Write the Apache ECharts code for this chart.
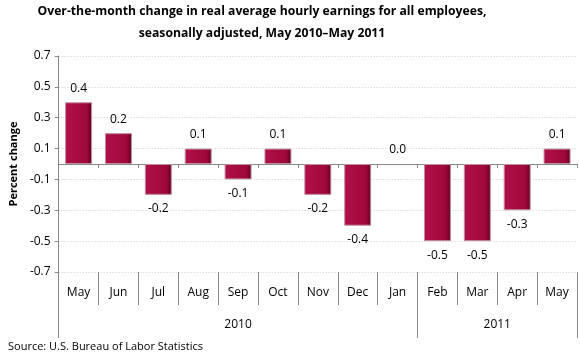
<!DOCTYPE html>
<html><head><meta charset="utf-8">
<script src="https://cdn.jsdelivr.net/npm/echarts@6/dist/echarts.min.js"></script>
<style>html,body{margin:0;padding:0;background:#fff}#c{width:580px;height:360px}</style>
</head><body><div id="c"></div>
<script>
var months = ['May','Jun','Jul','Aug','Sep','Oct','Nov','Dec','Jan','Feb','Mar','Apr','May'];
var values = [0.4, 0.2, -0.2, 0.1, -0.1, 0.1, -0.2, -0.4, 0.0, -0.5, -0.5, -0.3, 0.1];
var years = ['2010', '2011'];
var yearCenters = [4.5, 11];
var yearBounds = [0, 9, 13];
var titleLines = ['Over-the-month change in real average hourly earnings for all employees,',
                  'seasonally adjusted, May 2010\u2013May 2011'];

var FONT = 'Open Sans';
var chart = echarts.init(document.getElementById('c'));
var barColor = new echarts.graphic.LinearGradient(0, 0, 1, 0, [
  {offset: 0, color: '#b0104a'},
  {offset: 0.8, color: '#a0083a'},
  {offset: 1, color: '#5c0022'}
]);
chart.setOption({
  animation: false,
  graphic: [{
    type: 'text', x: 262, y: 6,
    style: {text: titleLines[0], font: 'bold 12.2px "' + FONT + '"', fill: '#000', textAlign: 'center'}
  }, {
    type: 'text', x: 262, y: 28,
    style: {text: titleLines[1], font: 'bold 12.2px "' + FONT + '"', fill: '#000', textAlign: 'center'}
  }, {
    type: 'text', left: 8, top: 341,
    style: {text: 'Source: U.S. Bureau of Labor Statistics', font: '11px "' + FONT + '"', fill: '#000'}
  }],
  grid: {left: 53, right: 3, top: 56, bottom: 88},
  yAxis: {
    type: 'value', min: -0.7, max: 0.7, interval: 0.2,
    name: 'Percent change', nameLocation: 'middle', nameGap: 38,
    nameTextStyle: {fontFamily: FONT, fontWeight: 'bold', fontSize: 11, color: '#000'},
    axisLine: {show: true, lineStyle: {color: '#888'}},
    axisTick: {show: true, length: 4, lineStyle: {color: '#888'}},
    axisLabel: {fontFamily: FONT, fontSize: 12, color: '#000', margin: 8,
      formatter: function (v) { return v.toFixed(1); }},
    splitLine: {show: true, lineStyle: {color: '#ccc', type: [1, 2]}}
  },
  xAxis: [{
    type: 'category', data: months, position: 'bottom',
    axisLine: {show: true, onZero: true, lineStyle: {color: '#888'}},
    axisTick: {show: true, length: 4, interval: 0, lineStyle: {color: '#888'}},
    axisLabel: {show: false}
  }, {
    type: 'category', data: months, position: 'bottom',
    axisLine: {show: false, onZero: false},
    axisTick: {show: true, length: 33, interval: 0, lineStyle: {color: '#888'}},
    axisLabel: {show: true, interval: 0, margin: 15, fontFamily: FONT, fontSize: 12, color: '#000'}
  }, {
    type: 'value', min: 0, max: 13, position: 'bottom',
    axisLine: {show: false, onZero: false},
    axisTick: {show: true, length: 66, customValues: yearBounds, lineStyle: {color: '#888'}},
    axisLabel: {show: true, customValues: yearCenters, margin: 47, fontFamily: FONT, fontSize: 12, color: '#000',
      formatter: function (v) { return years[yearCenters.indexOf(v)]; }},
    splitLine: {show: false}
  }],
  series: [{
    type: 'bar', xAxisIndex: 0, barWidth: 27,
    data: values.map(function (v) {
      var d = {value: v};
      if (v < 0) d.label = {position: 'bottom'};
      if (v === 0) d.itemStyle = {borderWidth: 0, color: 'rgba(0,0,0,0)'};
      return d;
    }),
    itemStyle: {color: barColor, borderColor: '#c090a0', borderWidth: 1},
    label: {
      show: true, fontFamily: FONT, fontSize: 12, color: '#000', distance: 8,
      position: 'top',
      formatter: function (p) { return p.value.toFixed(1); }
    }
  }]
});
</script></body></html>
